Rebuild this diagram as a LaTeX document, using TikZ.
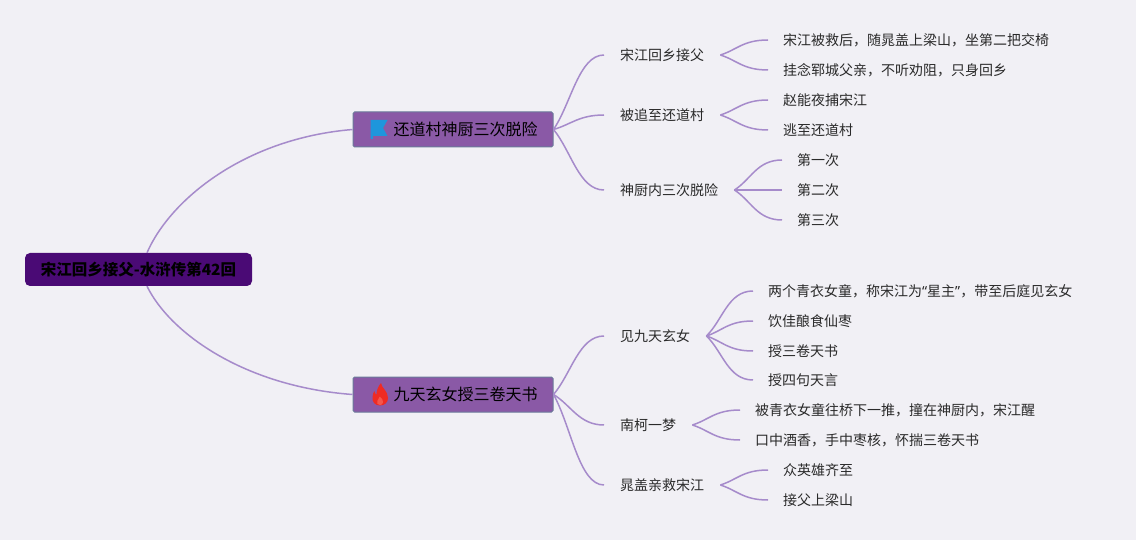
\documentclass[tikz,border=0pt]{standalone}
\usepackage{fontspec}
\setmainfont{Noto Sans CJK SC}
\newfontfamily\quotefont{Noto Sans}
\usetikzlibrary{calc}
\definecolor{bgc}{HTML}{F1F0F5}
\definecolor{rootc}{HTML}{4A0A75}
\definecolor{mainc}{HTML}{8A59A6}
\definecolor{mainborder}{HTML}{6B7A9A}
\definecolor{linec}{HTML}{A68BCB}
\definecolor{textc}{HTML}{2A2A2A}
\definecolor{flagc}{HTML}{1E96DC}
\definecolor{firec}{HTML}{EE2B24}
\definecolor{fireinner}{HTML}{F4564C}
\newcommand\mmlink[2]{\draw[conn] (#1) .. controls ($(#1)!0.35!(#2)$) and ($(#2)+(-25,0)$) .. (#2);}
\begin{document}
\begin{tikzpicture}[x=1pt,y=-1pt,
  rootnode/.style={fill=rootc, rounded corners=5pt, minimum width=227pt, minimum height=33pt, inner sep=0pt, font=\fontsize{15.5}{18}\selectfont\bfseries, text=black},
  mainnode/.style={fill=mainc, draw=mainborder, line width=1pt, rounded corners=1.5pt, minimum width=200pt, minimum height=35pt, inner sep=0pt, font=\fontsize{16}{19}\selectfont, text=black},
  subnode/.style={anchor=west, inner xsep=16pt, inner ysep=2pt, font=\fontsize{14}{17}\selectfont, text=textc},
  leafnode/.style={anchor=west, inner xsep=15pt, inner ysep=2pt, font=\fontsize{14}{17}\selectfont, text=textc},
  conn/.style={draw=linec, line width=1.5pt}
]
\fill[bgc] (0,0) rectangle (1136,540);
\useasboundingbox (0,0) rectangle (1136,540);

% root and main branches
\node[rootnode] (root) at (138.5,269.5) {宋江回乡接父-水浒传第42回};
\node[mainnode] (b1) at (453,129.5) {\hspace*{25pt}还道村神厨三次脱险};
\node[mainnode] (b2) at (453,394.5) {\hspace*{25pt}九天玄女授三卷天书};

% icons
\begin{scope}[shift={(b1.west)},shift={(-353,-129.5)}]
  \fill[flagc] (371,120) -- (388,120) -- (383.5,128) -- (388,136) -- (373.5,136) -- (373.5,139) -- (371,139) -- cycle;
\end{scope}
\begin{scope}[shift={(b2.west)},shift={(-353,-394.5)}]
  \fill[firec] (380.5,405.5) .. controls (375.5,405.5) and (372.5,402) .. (373,397)
    .. controls (373.2,394.5) and (374,392.5) .. (374.8,391)
    .. controls (375.2,393) and (376,394) .. (377,394.5)
    .. controls (377,390) and (379,386) .. (381.5,383)
    .. controls (382,388) and (388.5,391) .. (388.5,398)
    .. controls (388.5,402.5) and (385,405.5) .. (380.5,405.5) -- cycle;
  \fill[fireinner] (380.5,405) .. controls (378,405) and (377,403) .. (377.8,401)
    .. controls (378.5,399.5) and (380,398.5) .. (380.3,396.5)
    .. controls (382.5,398.5) and (384,400.5) .. (383.5,402.5)
    .. controls (383,404.3) and (382,405) .. (380.5,405) -- cycle;
\end{scope}

% sub topics
\node[subnode] (s1) at (604,55) {宋江回乡接父};
\node[subnode] (s2) at (604,115) {被追至还道村};
\node[subnode] (s3) at (604,190) {神厨内三次脱险};
\node[subnode] (s4) at (604,336) {见九天玄女};
\node[subnode] (s5) at (604,425) {南柯一梦};
\node[subnode] (s6) at (604,485) {晁盖亲救宋江};

% leaves
\node[leafnode] (l11) at (768,40) {宋江被救后，随晁盖上梁山，坐第二把交椅};
\node[leafnode] (l12) at (768,70) {挂念郓城父亲，不听劝阻，只身回乡};
\node[leafnode] (l21) at (768,100) {赵能夜捕宋江};
\node[leafnode] (l22) at (768,130) {逃至还道村};
\node[leafnode] (l31) at (782,160) {第一次};
\node[leafnode] (l32) at (782,190) {第二次};
\node[leafnode] (l33) at (782,220) {第三次};
\node[leafnode] (l41) at (753,291) {两个青衣女童，称宋江为{\quotefont“}星主{\quotefont”}，带至后庭见玄女};
\node[leafnode] (l42) at (753,321) {饮佳酿食仙枣};
\node[leafnode] (l43) at (753,351) {授三卷天书};
\node[leafnode] (l44) at (753,380) {授四句天言};
\node[leafnode] (l51) at (740,410) {被青衣女童往桥下一推，撞在神厨内，宋江醒};
\node[leafnode] (l52) at (740,440) {口中酒香，手中枣核，怀揣三卷天书};
\node[leafnode] (l61) at (768,470) {众英雄齐至};
\node[leafnode] (l62) at (768,500) {接父上梁山};

% root connectors
\coordinate (rt) at ($(root.north)+(8.5,0)$);
\coordinate (rb) at ($(root.south)+(8.5,0)$);
\draw[conn] (rt) .. controls +(23,-53) and +(-108,9) .. (b1.west);
\draw[conn] (rb) .. controls +(23,47) and +(-108,-8) .. (b2.west);

% main to sub
\mmlink{b1.east}{s1.west}
\mmlink{b1.east}{s2.west}
\mmlink{b1.east}{s3.west}
\mmlink{b2.east}{s4.west}
\mmlink{b2.east}{s5.west}
\mmlink{b2.east}{s6.west}

% sub to leaves
\mmlink{s1.east}{l11.west}
\mmlink{s1.east}{l12.west}
\mmlink{s2.east}{l21.west}
\mmlink{s2.east}{l22.west}
\mmlink{s3.east}{l31.west}
\mmlink{s3.east}{l32.west}
\mmlink{s3.east}{l33.west}
\mmlink{s4.east}{l41.west}
\mmlink{s4.east}{l42.west}
\mmlink{s4.east}{l43.west}
\mmlink{s4.east}{l44.west}
\mmlink{s5.east}{l51.west}
\mmlink{s5.east}{l52.west}
\mmlink{s6.east}{l61.west}
\mmlink{s6.east}{l62.west}
\end{tikzpicture}
\end{document}
